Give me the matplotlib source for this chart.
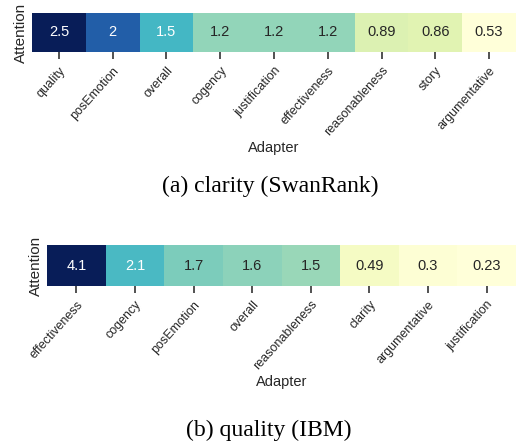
import matplotlib
matplotlib.use("Agg")
import matplotlib.pyplot as plt
import numpy as np
import seaborn as sns

# attention per adapter, clarity task (SwanRank)
clarity_adapters = ['quality', 'posEmotion', 'overall', 'cogency', 'justification',
                    'effectiveness', 'reasonableness', 'story', 'argumentative']
clarity_attention = [2.5, 2.0, 1.5, 1.2, 1.2, 1.2, 0.89, 0.86, 0.53]

# attention per adapter, quality task (IBM)
quality_adapters = ['effectiveness', 'cogency', 'posEmotion', 'overall',
                    'reasonableness', 'clarity', 'argumentative', 'justification']
quality_attention = [4.1, 2.1, 1.7, 1.6, 1.5, 0.49, 0.3, 0.23]

W, H = 516, 443
fig = plt.figure(figsize=(W / 100, H / 100), dpi=100)
plt.rcParams['font.family'] = ['Liberation Sans', 'DejaVu Sans']


def px_axes(left, top, right, bottom):
    return fig.add_axes([left / W, 1 - bottom / H, (right - left) / W, (bottom - top) / H])


def draw_heatmap(ax, labels, values):
    data = np.array([values])
    sns.heatmap(data, ax=ax, cmap='YlGnBu', annot=True, fmt='.2g', cbar=False,
                annot_kws={'fontsize': 10.5}, xticklabels=labels, yticklabels=False)
    ax.set_xlabel('Adapter', fontsize=10.5, color='#262626', labelpad=2)
    ax.set_ylabel('Attention', fontsize=11, color='#262626', labelpad=3)
    ax.tick_params(axis='x', length=5, width=1.2, color='#333333', pad=4)
    ax.tick_params(axis='y', length=0)
    for t in ax.get_xticklabels():
        t.set_rotation(48)
        t.set_ha('right')
        t.set_rotation_mode('anchor')
        t.set_fontsize(9)
        t.set_color('#262626')


ax1 = px_axes(32, 13, 516, 52)
draw_heatmap(ax1, clarity_adapters, clarity_attention)

ax2 = px_axes(47, 245, 516, 286)
draw_heatmap(ax2, quality_adapters, quality_attention)

fig.text(270 / W, 1 - 186 / H, '(a) clarity (SwanRank)', ha='center', va='center',
         fontsize=17, family='Liberation Serif')
fig.text(269 / W, 1 - 430 / H, '(b) quality (IBM)', ha='center', va='center',
         fontsize=17, family='Liberation Serif')

fig.savefig('out.png', dpi=100)
